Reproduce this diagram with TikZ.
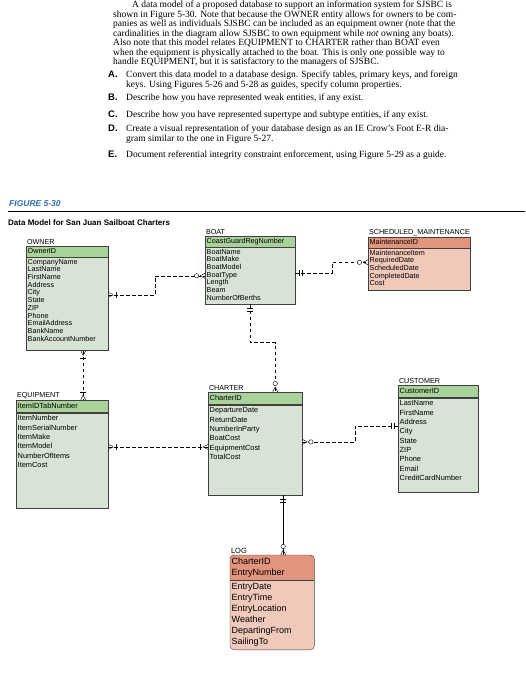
\documentclass[tikz,border=0pt]{standalone}
\usepackage{fontspec}
\setmainfont{Liberation Serif}
\setsansfont{Liberation Sans}
\usetikzlibrary{positioning,decorations.markings,backgrounds}
\definecolor{keygreen}{HTML}{A9D19A}
\definecolor{attrgreen}{HTML}{D7E3D5}
\definecolor{keysalmon}{HTML}{E3947C}
\definecolor{attrsalmon}{HTML}{F0C9BA}
\definecolor{figblue}{HTML}{2F6DB5}
\newcommand{\erfonta}{\sffamily\fontsize{7.2}{7.7}\selectfont}
\newcommand{\erfontb}{\sffamily\fontsize{7.4}{9.3}\selectfont}
\newcommand{\erfontc}{\sffamily\fontsize{9}{11}\selectfont}
\newcommand{\keylist}[2]{\parbox{#1}{\raggedright\strut #2\strut}}
\newcommand{\attrlist}[3]{\parbox[c][#1][t]{#2}{\raggedright\strut #3}}
\newcommand{\tasklabel}[1]{\makebox[18pt][l]{\sffamily\bfseries #1}}
\tikzstyle{keyfield} = [rectangle, draw=black!75, fill=keygreen, anchor=north west, inner sep=1.5pt]
\tikzstyle{attrfield} = [rectangle, draw=black!75, fill=attrgreen, inner sep=1.5pt]
\tikzstyle{weakkey} = [keyfield, fill=keysalmon]
\tikzstyle{weakattr} = [attrfield, fill=attrsalmon]
\tikzstyle{logfield} = [rectangle, anchor=north west, inner sep=1.5pt]
\tikzstyle{entname} = [anchor=south west, inner sep=0.8pt, font=\sffamily\fontsize{7.2}{8}\selectfont]
\tikzstyle{para} = [anchor=north west, align=left, inner sep=0pt, font=\fontsize{9.5}{9.5}\selectfont]
\tikzstyle{task} = [anchor=north west, align=left, inner sep=0pt, font=\fontsize{9.5}{9.2}\selectfont]
\tikzstyle{rel} = [thin, dash pattern=on 3.5pt off 2.5pt]
\tikzstyle{idrel} = [thin]
\tikzstyle{foot end} = [postaction={decorate, decoration={markings, mark=at position -5pt with {\draw[solid] (0pt,0pt) -- (5pt,2.5pt) (0pt,0pt) -- (5pt,-2.5pt);}}}]
\tikzstyle{foot start} = [postaction={decorate, decoration={markings, mark=at position 5pt with {\draw[solid] (0pt,0pt) -- (-5pt,2.5pt) (0pt,0pt) -- (-5pt,-2.5pt);}}}]
\tikzstyle{ring end} = [postaction={decorate, decoration={markings, mark=at position -8.5pt with {\draw[solid,fill=white] (0pt,0pt) circle (2.2pt);}}}]
\tikzstyle{ring start} = [postaction={decorate, decoration={markings, mark=at position 8.5pt with {\draw[solid,fill=white] (0pt,0pt) circle (2.2pt);}}}]
\tikzstyle{bar end} = [postaction={decorate, decoration={markings, mark=at position -8pt with {\draw[solid] (0pt,-3pt) -- (0pt,3pt);}}}]
\tikzstyle{bar start} = [postaction={decorate, decoration={markings, mark=at position 8pt with {\draw[solid] (0pt,-3pt) -- (0pt,3pt);}}}]
\tikzstyle{bars end} = [postaction={decorate, decoration={markings, mark=at position -4pt with {\draw[solid] (0pt,-3pt) -- (0pt,3pt);}, mark=at position -7pt with {\draw[solid] (0pt,-3pt) -- (0pt,3pt);}}}]
\tikzstyle{bars start} = [postaction={decorate, decoration={markings, mark=at position 4pt with {\draw[solid] (0pt,-3pt) -- (0pt,3pt);}, mark=at position 7pt with {\draw[solid] (0pt,-3pt) -- (0pt,3pt);}}}]
\begin{document}
\begin{tikzpicture}[x=1pt, y=-1pt]
    \path[use as bounding box] (0,0) rectangle (525,700);

    % Exercise text
    \node [para] (intro) at (113,1) {\hspace*{19pt}A data model of a proposed database to support an information system for SJSBC is\\
        shown in Figure 5-30. Note that because the OWNER entity allows for owners to be com-\\
        panies as well as individuals SJSBC can be included as an equipment owner (note that the\\
        cardinalities in the diagram allow SJSBC to own equipment while \emph{not} owning any boats).\\
        Also note that this model relates EQUIPMENT to CHARTER rather than BOAT even\\
        when the equipment is physically attached to the boat. This is only one possible way to\\
        handle EQUIPMENT, but it is satisfactory to the managers of SJSBC.};
    \node [task] (taska) at (108,71) {\tasklabel{A.}Convert this data model to a database design. Specify tables, primary keys, and foreign\\
        \hspace*{18pt}keys. Using Figures 5-26 and 5-28 as guides, specify column properties.};
    \node [task] (taskb) at (108,94) {\tasklabel{B.}Describe how you have represented weak entities, if any exist.};
    \node [task] (taskc) at (108,111) {\tasklabel{C.}Describe how you have represented supertype and subtype entities, if any exist.};
    \node [task] (taskd) at (108,125) {\tasklabel{D.}Create a visual representation of your database design as an IE Crow's Foot E-R dia-\\
        \hspace*{18pt}gram similar to the one in Figure 5-27.};
    \node [task] (taske) at (108,151) {\tasklabel{E.}Document referential integrity constraint enforcement, using Figure 5-29 as a guide.};

    % Figure caption
    \node [anchor=west, inner sep=0pt, text=figblue, font=\sffamily\bfseries\itshape\fontsize{8.5}{9}\selectfont] (figno) at (9,204) {FIGURE 5-30};
    \coordinate (rulestart) at (8,211);
    \coordinate (ruleend) at (525,211);
    \draw [thin] (rulestart) -- (ruleend);
    \node [anchor=west, inner sep=0pt, font=\sffamily\bfseries\fontsize{8}{9}\selectfont] (figtitle) at (8,223) {Data Model for San Juan Sailboat Charters};

    % OWNER
    \node [keyfield, font=\erfonta] (ownerkey) at (26,246) {\keylist{79pt}{OwnerID}};
    \node [attrfield, font=\erfonta, below=0pt of ownerkey] (owner) {\attrlist{90pt}{79pt}{CompanyName\\LastName\\FirstName\\Address\\City\\State\\ZIP\\Phone\\EmailAddress\\BankName\\BankAccountNumber}};
    \node [entname] (ownername) at (ownerkey.north west) {OWNER};

    % BOAT
    \node [keyfield, font=\erfonta] (boatkey) at (205,236) {\keylist{87pt}{CoastGuardRegNumber}};
    \node [attrfield, font=\erfonta, below=0pt of boatkey] (boat) {\attrlist{54pt}{87pt}{BoatName\\BoatMake\\BoatModel\\BoatType\\Length\\Beam\\NumberOfBerths}};
    \node [entname] (boatname) at (boatkey.north west) {BOAT};

    % SCHEDULED_MAINTENANCE
    \node [weakkey, font=\erfonta] (smkey) at (368,237) {\keylist{99pt}{MaintenanceID}};
    \node [weakattr, font=\erfonta, below=0pt of smkey] (sm) {\attrlist{39pt}{99pt}{MaintenanceItem\\RequiredDate\\ScheduledDate\\CompletedDate\\Cost}};
    \node [entname] (smname) at (smkey.north west) {SCHEDULED\_MAINTENANCE};

    % EQUIPMENT
    \node [keyfield, font=\erfontb] (equipkey) at (16,400) {\keylist{89pt}{ItemIDTabNumber}};
    \node [attrfield, font=\erfontb, below=0pt of equipkey] (equip) {\attrlist{92pt}{89pt}{ItemNumber\\ItemSerialNumber\\ItemMake\\ItemModel\\NumberOfItems\\ItemCost}};
    \node [entname] (equipname) at (equipkey.north west) {EQUIPMENT};

    % CHARTER
    \node [keyfield, font=\erfontb] (charterkey) at (208,392) {\keylist{91pt}{CharterID}};
    \node [attrfield, font=\erfontb, below=0pt of charterkey] (charter) {\attrlist{87pt}{91pt}{DepartureDate\\ReturnDate\\NumberInParty\\BoatCost\\EquipmentCost\\TotalCost}};
    \node [entname] (chartername) at (charterkey.north west) {CHARTER};

    % CUSTOMER
    \node [keyfield, font=\erfontb] (customerkey) at (398,385) {\keylist{77pt}{CustomerID}};
    \node [attrfield, font=\erfontb, below=0pt of customerkey] (customer) {\attrlist{91pt}{77pt}{LastName\\FirstName\\Address\\City\\State\\ZIP\\Phone\\Email\\CreditCardNumber}};
    \node [entname] (customername) at (customerkey.north west) {CUSTOMER};

    % LOG
    \node [logfield, font=\erfontc] (logkey) at (230,555) {\keylist{81pt}{CharterID\\EntryNumber}};
    \node [logfield, font=\erfontc, below=0pt of logkey, anchor=north] (log) {\attrlist{66pt}{81pt}{EntryDate\\EntryTime\\EntryLocation\\Weather\\DepartingFrom\\SailingTo}};
    \node [entname, font=\sffamily\fontsize{7.5}{8}\selectfont] (logname) at (logkey.north west) {LOG};
    \begin{scope}[on background layer]
        \clip [rounded corners=4pt] (logkey.north west) rectangle (log.south east);
        \fill [attrsalmon] (logkey.north west) rectangle (log.south east);
        \fill [keysalmon] (logkey.north west) rectangle (logkey.south east);
    \end{scope}
    \draw [black!75, rounded corners=4pt] (logkey.north west) rectangle (log.south east);
    \draw [black!75] (logkey.south west) -- (logkey.south east);

    % Relationships
    \coordinate (ownerfoot) at ([xshift=16pt]owner.south);
    \coordinate (charterdrop) at ([xshift=20pt]charterkey.north);
    \coordinate (chartersidea) at ([yshift=3pt]charter.west);
    \coordinate (logdrop) at ([xshift=28pt]charter.south);
    \draw [rel, foot start, bar start, foot end, ring end] ([yshift=9pt]owner.east) -- ++(47,0) |- (boat.west);
    \draw [rel, foot start, bar start, bar end, foot end] (ownerfoot) -- (ownerfoot |- equipkey.north);
    \draw [rel, bars start, ring end, foot end] ([yshift=3pt]boat.east) -- ++(37,0) |- ([yshift=7pt]sm.west);
    \draw [rel, bars start, ring end, foot end] (boat.south) -- ++(0,38) -| (charterdrop);
    \draw [rel, foot start, bar start, bar end, foot end] (equip.east |- chartersidea) -- (chartersidea);
    \draw [rel, foot start, ring start, bars end] ([yshift=8pt]charter.east) -- ++(53,0) |- ([yshift=19pt]customer.west);
    \draw [idrel, bars start, ring end, foot end] (logdrop) -- (logdrop |- logkey.north);
\end{tikzpicture}
\end{document}
